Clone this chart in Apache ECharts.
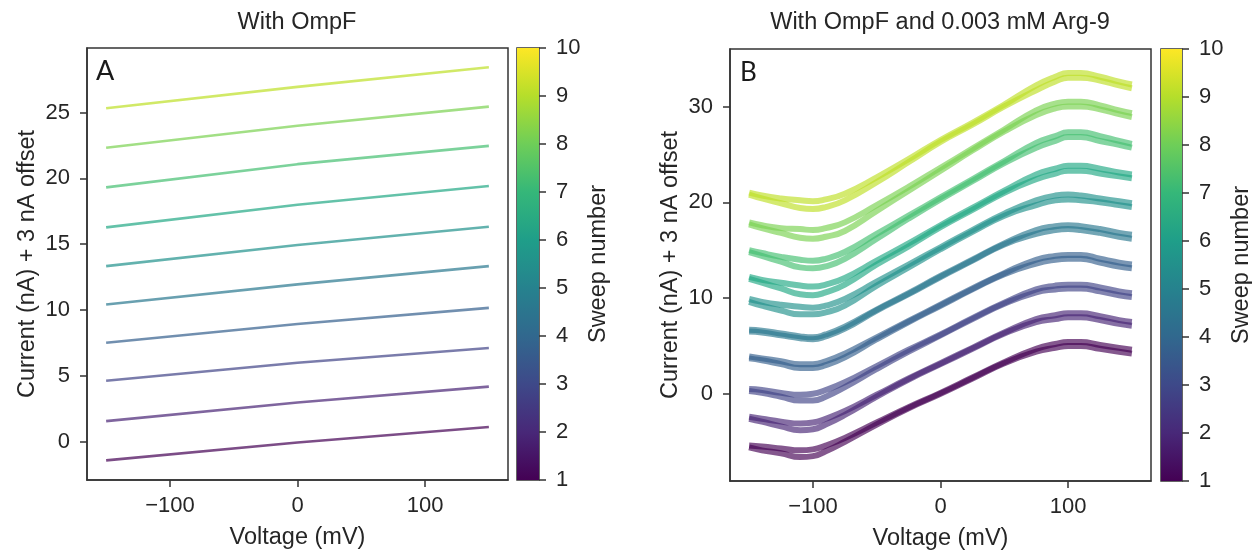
<!DOCTYPE html>
<html>
<head>
<meta charset="utf-8">
<script src="https://cdn.jsdelivr.net/npm/echarts@6/dist/echarts.min.js"></script>
<style>
  html, body { margin: 0; padding: 0; background: #fff; }
  #chart { width: 1252px; height: 550px; }
</style>
</head>
<body>
<div id="chart"></div>
<script>
// sweep numbers and voltage steps
var sweeps = [1, 2, 3, 4, 5, 6, 7, 8, 9, 10];
var voltsA = [-150, 0, 150];
var voltsB = [-150, -140, -125, -110, -100, -90, -75, -50, -25, 0, 25, 50, 75, 90, 100, 110, 125, 140, 150];

// panel A, current (nA) + offset, one row per sweep
var currentA = [
    [-1.41, -0.05, 1.12],
    [1.57, 2.99, 4.19],
    [4.64, 6.0, 7.12],
    [7.52, 8.94, 10.17],
    [10.43, 11.95, 13.34],
    [13.34, 14.94, 16.33],
    [16.28, 18.0, 19.42],
    [19.32, 21.08, 22.47],
    [22.33, 24.0, 25.45],
    [25.32, 26.95, 28.44]
];

// panel B, the two branches of each sweep
var upB = [
    [-5.4, -5.5, -5.7, -5.9, -5.8, -5.4, -4.6, -3.0, -1.4, 0.1, 1.7, 3.3, 4.7, 5.2, 5.4, 5.4, 5.1, 4.8, 4.6],
    [-2.4, -2.6, -2.9, -3.1, -3.0, -2.6, -1.8, -0.1, 1.6, 3.2, 4.8, 6.4, 7.8, 8.2, 8.4, 8.4, 8.1, 7.7, 7.5],
    [0.5, 0.4, 0.1, -0.1, 0.0, 0.4, 1.2, 2.9, 4.6, 6.2, 7.9, 9.5, 10.9, 11.3, 11.4, 11.4, 11.1, 10.7, 10.5],
    [3.9, 3.7, 3.4, 3.1, 3.1, 3.4, 4.2, 5.9, 7.6, 9.3, 11.0, 12.6, 14.0, 14.4, 14.5, 14.5, 14.1, 13.7, 13.5],
    [6.7, 6.6, 6.3, 6.0, 5.9, 6.2, 7.0, 8.8, 10.5, 12.3, 14.0, 15.7, 17.1, 17.5, 17.6, 17.5, 17.2, 16.8, 16.6],
    [9.9, 9.6, 9.3, 9.1, 9.0, 9.2, 9.9, 11.7, 13.5, 15.3, 17.1, 18.8, 20.2, 20.7, 20.8, 20.7, 20.4, 20.1, 19.9],
    [12.2, 11.9, 11.6, 11.3, 11.2, 11.4, 12.1, 13.9, 15.7, 17.6, 19.4, 21.2, 22.9, 23.5, 23.8, 23.8, 23.5, 23.1, 22.9],
    [15.0, 14.7, 14.3, 14.0, 13.9, 14.1, 14.8, 16.7, 18.6, 20.5, 22.4, 24.3, 26.2, 26.9, 27.3, 27.3, 26.9, 26.4, 26.1],
    [17.9, 17.6, 17.3, 17.2, 17.1, 17.3, 17.9, 19.7, 21.6, 23.6, 25.6, 27.6, 29.6, 30.3, 30.5, 30.5, 30.1, 29.6, 29.3],
    [21.0, 20.7, 20.4, 20.2, 20.1, 20.3, 20.9, 22.6, 24.5, 26.5, 28.3, 30.2, 32.2, 33.1, 33.5, 33.5, 33.1, 32.6, 32.3]
];
var downB = [
    [-5.6, -5.9, -6.2, -6.6, -6.5, -6.0, -5.0, -3.2, -1.5, 0.0, 1.6, 3.2, 4.4, 4.8, 5.0, 5.0, 4.7, 4.4, 4.2],
    [-2.6, -2.9, -3.4, -3.8, -3.7, -3.2, -2.2, -0.3, 1.5, 3.1, 4.7, 6.3, 7.5, 7.8, 8.0, 8.0, 7.7, 7.3, 7.1],
    [0.3, 0.1, -0.3, -0.7, -0.7, -0.3, 0.7, 2.6, 4.4, 6.1, 7.8, 9.4, 10.6, 10.9, 11.0, 11.0, 10.7, 10.3, 10.1],
    [3.7, 3.5, 3.1, 2.7, 2.7, 3.0, 3.8, 5.7, 7.5, 9.2, 10.9, 12.5, 13.6, 14.0, 14.1, 14.1, 13.7, 13.3, 13.1],
    [6.5, 6.4, 6.1, 5.8, 5.7, 6.0, 6.8, 8.7, 10.4, 12.2, 13.9, 15.6, 16.7, 17.1, 17.2, 17.1, 16.8, 16.4, 16.2],
    [9.6, 9.2, 8.7, 8.3, 8.3, 8.5, 9.2, 11.3, 13.2, 15.1, 16.9, 18.6, 19.7, 20.2, 20.3, 20.2, 20.0, 19.7, 19.5],
    [12.0, 11.6, 11.0, 10.4, 10.3, 10.6, 11.4, 13.5, 15.4, 17.4, 19.2, 21.0, 22.4, 23.0, 23.3, 23.3, 23.0, 22.7, 22.5],
    [14.8, 14.4, 13.8, 13.2, 13.1, 13.3, 14.1, 16.2, 18.3, 20.3, 22.2, 24.1, 25.7, 26.4, 26.8, 26.8, 26.4, 26.0, 25.7],
    [17.7, 17.3, 16.8, 16.3, 16.2, 16.4, 17.0, 19.1, 21.2, 23.3, 25.4, 27.4, 29.1, 29.8, 30.0, 30.0, 29.7, 29.2, 28.9],
    [20.8, 20.4, 19.9, 19.4, 19.3, 19.5, 20.2, 22.1, 24.2, 26.3, 28.1, 30.0, 31.7, 32.6, 33.0, 33.0, 32.7, 32.2, 31.9]
];

// tick labels
var xTicks = [-100, 0, 100];
var yTicksA = [0, 5, 10, 15, 20, 25];
var yTicksB = [0, 10, 20, 30];

// viridis, one colour per sweep for the lines and the stops of the colour bar
var lineColors = ['#440154', '#482475', '#414487', '#355f8d', '#2a788e', '#21918c', '#22a884', '#44bf70', '#7ad151', '#bddf26'];
var viridis = ['#440154', '#482878', '#3e4989', '#31688e', '#26828e', '#1f9e89', '#35b779', '#6ece58', '#b5de2b', '#fde725'];

var txt = '#262626';
var font = 'Liberation Sans';
var tickSize = 22;
var nameSize = 23.5;

function hexA(hex, a) {
    var r = parseInt(hex.slice(1, 3), 16), g = parseInt(hex.slice(3, 5), 16), b = parseInt(hex.slice(5, 7), 16);
    return 'rgba(' + r + ',' + g + ',' + b + ',' + a + ')';
}
function minus(v) {
    return v < 0 ? '\u2212' + Math.abs(v) : String(v);
}

var chart = echarts.init(document.getElementById('chart'));

var grids = [
    {left: 87, top: 48, width: 421, height: 432},
    {left: 730, top: 49, width: 421, height: 432},
    {left: 517, top: 48, width: 22, height: 432},
    {left: 1161, top: 49, width: 21, height: 432}
];
grids.forEach(function (g) {
    g.show = true;
    g.borderColor = '#333';
    g.borderWidth = 1.5;
    g.backgroundColor = 'transparent';
    g.outerBoundsMode = 'none';
    g.containLabel = false;
});

var tickStyle = {color: '#333', width: 1.5};

function valueX(idx) {
    return {
        type: 'value', gridIndex: idx, min: -165, max: 165,
        name: 'Voltage (mV)', nameLocation: 'middle', nameGap: 46,
        nameTextStyle: {fontSize: nameSize, color: txt, fontFamily: font},
        axisLine: {show: true, onZero: false, lineStyle: tickStyle},
        axisTick: {show: true, length: 7, lineStyle: tickStyle, customValues: xTicks},
        axisLabel: {fontSize: tickSize, color: txt, fontFamily: font, margin: 15, customValues: xTicks, formatter: minus},
        splitLine: {show: false}
    };
}
function valueY(idx, min, max, ticks) {
    return {
        type: 'value', gridIndex: idx, min: min, max: max,
        name: 'Current (nA) + 3 nA offset', nameLocation: 'middle', nameGap: 47,
        nameTextStyle: {fontSize: nameSize, color: txt, fontFamily: font},
        axisLine: {show: true, onZero: false, lineStyle: tickStyle},
        axisTick: {show: true, length: 7, lineStyle: tickStyle, customValues: ticks},
        axisLabel: {fontSize: tickSize, color: txt, fontFamily: font, margin: 17, customValues: ticks, formatter: minus},
        splitLine: {show: false}
    };
}
function barX(idx) {
    return {type: 'category', gridIndex: idx, data: ['bar'], show: false};
}
function barY(idx) {
    return {
        type: 'value', gridIndex: idx, min: 1, max: 10, interval: 1, position: 'right',
        name: 'Sweep number', nameLocation: 'middle', nameGap: 48, nameRotate: 90,
        nameTextStyle: {fontSize: nameSize, color: txt, fontFamily: font},
        axisLine: {show: false, onZero: false},
        axisTick: {show: true, length: 7, lineStyle: tickStyle},
        axisLabel: {fontSize: tickSize, color: txt, fontFamily: font, margin: 17},
        splitLine: {show: false}
    };
}

var gradStops = viridis.map(function (c, i) {
    return {offset: 1 - i / (viridis.length - 1), color: c};
});

var series = [];
sweeps.forEach(function (s, k) {
    series.push({
        type: 'line', xAxisIndex: 0, yAxisIndex: 0, name: 'A' + s,
        data: voltsA.map(function (v, i) { return [v, currentA[k][i]]; }),
        showSymbol: false, silent: true,
        lineStyle: {width: 2.6, color: hexA(lineColors[k], 0.7)},
        z: 2 + k
    });
});
sweeps.forEach(function (s, k) {
    [downB, upB].forEach(function (branch, b) {
        series.push({
            type: 'line', xAxisIndex: 1, yAxisIndex: 1, name: 'B' + s + (b ? 'up' : 'down'),
            data: voltsB.map(function (v, i) { return [v, branch[k][i]]; }),
            showSymbol: false, silent: true, smooth: 0.5,
            lineStyle: {width: 6, color: hexA(lineColors[k], 0.66)},
            z: 2 + k
        });
    });
});
[2, 3].forEach(function (g) {
    series.push({
        type: 'bar', xAxisIndex: g, yAxisIndex: g, stack: 'cb' + g, data: [1],
        barWidth: '100%', clip: true, silent: true,
        itemStyle: {color: 'rgba(0,0,0,0)'}
    });
    series.push({
        type: 'bar', xAxisIndex: g, yAxisIndex: g, stack: 'cb' + g, data: [9],
        barWidth: '100%', clip: true, silent: true,
        itemStyle: {color: new echarts.graphic.LinearGradient(0, 0, 0, 1, gradStops)}
    });
});

var option = {
    backgroundColor: '#fff',
    animation: false,
    grid: grids,
    xAxis: [valueX(0), valueX(1), barX(2), barX(3)],
    yAxis: [valueY(0, -2.9, 29.9, yTicksA), valueY(1, -9.1, 36.0, yTicksB), barY(2), barY(3)],
    series: series,
    graphic: [
        {type: 'text', x: 297, y: 11, style: {text: 'With OmpF', fontSize: nameSize, fill: txt, fontFamily: font, textAlign: 'center'}},
        {type: 'text', x: 940, y: 11, style: {text: 'With OmpF and 0.003 mM Arg-9', fontSize: nameSize, fill: txt, fontFamily: font, textAlign: 'center'}},
        {type: 'text', x: 96, y: 58, style: {text: 'A', fontSize: 27, fill: '#1a1a1a', fontFamily: 'Lato'}},
        {type: 'text', x: 740, y: 60, style: {text: 'B', fontSize: 26, fill: '#1a1a1a', fontFamily: 'Lato'}}
    ]
};

chart.setOption(option);
window.addEventListener('resize', function () {
    chart.resize();
});
</script>
</body>
</html>
